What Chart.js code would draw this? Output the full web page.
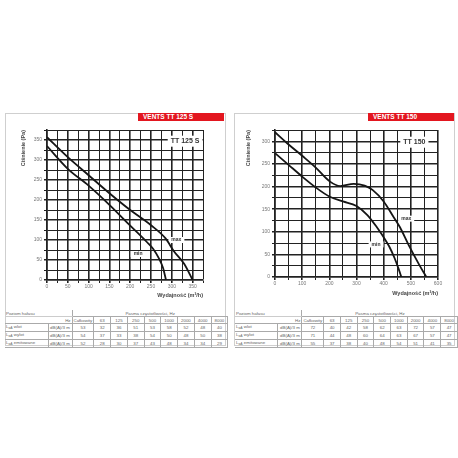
<!DOCTYPE html>
<html>
<head>
<meta charset="utf-8">
<script src="https://cdn.jsdelivr.net/npm/chart.js@4.4.1/dist/chart.umd.min.js"></script>
<style>
body{margin:0;width:458px;height:458px;background:#fff;position:relative;overflow:hidden;font-family:"Liberation Sans",Arial,sans-serif}
.panel{position:absolute;top:113px;width:221px;height:233px;border:1px solid #cfcfcf;box-sizing:border-box}
.banner{position:absolute;top:113px;height:8px;width:86px;background:#e3161f;color:#fff;font-weight:bold;font-size:6.5px;line-height:8px;padding-left:5px;box-sizing:border-box;white-space:nowrap}
canvas{position:absolute;top:113px}
table{position:absolute;top:310px;border-collapse:collapse;table-layout:fixed;font-size:4.4px;color:#666;line-height:5px}
td{padding:0 1px;height:6px;white-space:nowrap;overflow:hidden}
td.b{border:1px solid #aaa;text-align:center}
td.l{border:1px solid #aaa;border-left:none}
sub{font-size:3px;vertical-align:-1px}
</style>
</head>
<body>
<div class="panel" style="left:5px"></div>
<div class="panel" style="left:234px"></div>
<div class="banner" style="left:138px">VENTS TT 125 S</div>
<div class="banner" style="left:368px">VENTS TT 150</div>
<canvas id="c125" width="220" height="190" style="left:5px"></canvas>
<canvas id="c150" width="220" height="190" style="left:235px"></canvas>
<table id="t125" style="left:5px"></table>
<table id="t150" style="left:235px"></table>
<script>
// TT 125 S curves (flow m3/h, pressure Pa)
const flowMax125 = [0, 50, 100, 150, 200, 250, 285, 305, 330, 350];
const presMax125 = [357, 307, 262, 217, 175, 137, 104, 72, 40, 0];
const flowMin125 = [0, 50, 100, 150, 200, 240, 255, 270, 279, 286];
const presMin125 = [335, 278, 236, 188, 136, 95, 78, 52, 30, 0];

// TT 150 curves
const flowMax150 = [0, 50, 100, 150, 200, 240, 290, 330, 360, 400, 433, 460, 495, 530, 557];
const presMax150 = [320, 293, 268, 242, 212, 201, 206, 202, 192, 167, 136, 110, 67, 28, 0];
const flowMin150 = [0, 50, 100, 150, 200, 250, 300, 340, 375, 400, 420, 440, 455, 465];
const presMin150 = [274, 248, 222, 198, 178, 167, 157, 137, 110, 88, 68, 42, 18, 0];

// axis ticks
const xTicks125 = [0, 50, 100, 150, 200, 250, 300, 350];
const yTicks125 = [0, 50, 100, 150, 200, 250, 300, 350];
const xTicks150 = [0, 100, 200, 300, 400, 500, 600];
const yTicks150 = [0, 50, 100, 150, 200, 250, 300];

// noise tables
const bands = ['Całkowity', '63', '125', '250', '500', '1000', '2000', '4000', '8000'];
const rowNames = ['wlot', 'wylot', 'emitowane'];
const noise125Inlet = [53, 32, 36, 51, 53, 58, 52, 48, 40];
const noise125Outlet = [54, 37, 33, 38, 54, 50, 48, 50, 38];
const noise125Emitted = [52, 28, 30, 37, 43, 48, 34, 34, 29];
const noise150Inlet = [72, 40, 42, 58, 62, 63, 72, 57, 47];
const noise150Outlet = [71, 44, 48, 60, 64, 63, 67, 57, 47];
const noise150Emitted = [55, 37, 38, 40, 48, 54, 51, 41, 35];

function pts(xs, ys){
	return xs.map((x, i) => ({x: x, y: ys[i]}));
}

// text boxes on the grid (model name, max / min)
const notesPlugin = {
	id: 'notes',
	beforeDatasetsDraw(chart, args, opts){
		const ctx = chart.ctx;
		const xs = chart.scales.x, ys = chart.scales.y;
		(opts.items || []).forEach(n => {
			ctx.save();
			ctx.font = n.big ? 'bold 7px "Liberation Sans", Arial' : 'bold 5px "Liberation Sans", Arial';
			let w = ctx.measureText(n.text).width;
			let px = xs.getPixelForValue(n.x), py = ys.getPixelForValue(n.y);
			let h = n.big ? 11 : 6;
			ctx.fillStyle = '#fff';
			ctx.fillRect(px - w/2 - 3, py - h/2, w + 6, h);
			ctx.fillStyle = '#333';
			ctx.textAlign = 'center';
			ctx.textBaseline = 'middle';
			ctx.fillText(n.text, px, py);
			ctx.restore();
		});
	}
};

function makeChart(id, c){
	let ctx = document.getElementById(id).getContext('2d');
	let axisTick = (list) => (v) => list.includes(v) ? v : '';
	return new Chart(ctx, {
		type: 'line',
		data: {
			datasets: [
				{data: c.max, borderColor: '#151515', borderWidth: 1.8, pointRadius: 0, cubicInterpolationMode: 'monotone'},
				{data: c.min, borderColor: '#151515', borderWidth: 1.8, pointRadius: 0, cubicInterpolationMode: 'monotone'}
			]
		},
		options: {
			responsive: false,
			animation: false,
			devicePixelRatio: 1,
			layout: {padding: c.pad},
			plugins: {legend: {display: false}, tooltip: {enabled: false}, notes: {items: c.notes}},
			scales: {
				x: {
					type: 'linear', min: 0, max: c.xMax,
					afterFit: s => { s.height = c.xH; },
					ticks: {stepSize: c.xStep, autoSkip: false, maxRotation: 0, padding: 1, color: '#777', font: {size: 5}, callback: axisTick(c.xTicks)},
					grid: {color: '#222', tickLength: 3, lineWidth: g => (g.tick && g.tick.value % c.xMajor === 0) ? 1.6 : 1},
					border: {color: '#222', width: 1.6},
					title: {display: true, text: 'Wydajność (m³/h)', align: 'end', color: '#444', font: {size: 5.5, weight: 'bold'}, padding: {top: 1, bottom: 1}}
				},
				y: {
					min: 0, max: c.yMax,
					afterFit: s => { s.width = c.yW; },
					ticks: {stepSize: 25, autoSkip: false, padding: 2, color: '#777', font: {size: 5}, callback: axisTick(c.yTicks)},
					grid: {color: '#222', tickLength: 3, lineWidth: g => (g.tick && g.tick.value % 50 === 0) ? 1.6 : 1},
					border: {color: '#222', width: 1.6},
					title: {display: true, text: 'Ciśnienie (Pa)', align: 'end', color: '#444', font: {size: 5.5, weight: 'bold'}, padding: {top: 0, bottom: 2}}
				}
			}
		},
		plugins: [notesPlugin]
	});
}

makeChart('c125', {
	max: pts(flowMax125, presMax125), min: pts(flowMin125, presMin125),
	xMax: 375, yMax: 375, xStep: 25, xMajor: 50, xTicks: xTicks125, yTicks: yTicks125,
	pad: {left: 15, right: 22, top: 17, bottom: 3}, yW: 27, xH: 20,
	notes: [{text: 'TT 125 S', x: 332, y: 347, big: true}, {text: 'max', x: 311, y: 100}, {text: 'min', x: 219, y: 65}]
});

makeChart('c150', {
	max: pts(flowMax150, presMax150), min: pts(flowMin150, presMin150),
	xMax: 600, yMax: 325, xStep: 50, xMajor: 100, xTicks: xTicks150, yTicks: yTicks150,
	pad: {left: 10, right: 17, top: 17, bottom: 5}, yW: 30, xH: 21,
	notes: [{text: 'TT 150', x: 513, y: 298, big: true}, {text: 'max', x: 483, y: 129}, {text: 'min', x: 372, y: 72}]
});

function buildTable(id, rows){
	let t = document.getElementById(id);
	let widths = [43, 24, 18, 16.75, 16.75, 16.75, 16.75, 16.75, 16.75, 16.75, 16.75];
	let html = '<colgroup>' + widths.map(w => '<col style="width:' + w + 'px">').join('') + '</colgroup>';
	html += '<tr><td colspan="2" style="border-right:1px solid #aaa;border-bottom:1px solid #ccc">Poziom hałasu</td>' +
		'<td colspan="9" style="text-align:center">Pasma częstotliwości, Hz</td></tr>';
	html += '<tr><td></td><td style="text-align:right;border-right:1px solid #aaa">Hz</td>' + bands.map(b => '<td class="b">' + b + '</td>').join('') + '</tr>';
	rows.forEach((r, i) => {
		html += '<tr><td class="l" style="border-right:none">L<sub>wA</sub> ' + rowNames[i] + '</td><td class="b">dB(A)/3 m</td>' +
			r.map(v => '<td class="b">' + v + '</td>').join('') + '</tr>';
	});
	t.innerHTML = html;
}

buildTable('t125', [noise125Inlet, noise125Outlet, noise125Emitted]);
buildTable('t150', [noise150Inlet, noise150Outlet, noise150Emitted]);
</script>
</body>
</html>
